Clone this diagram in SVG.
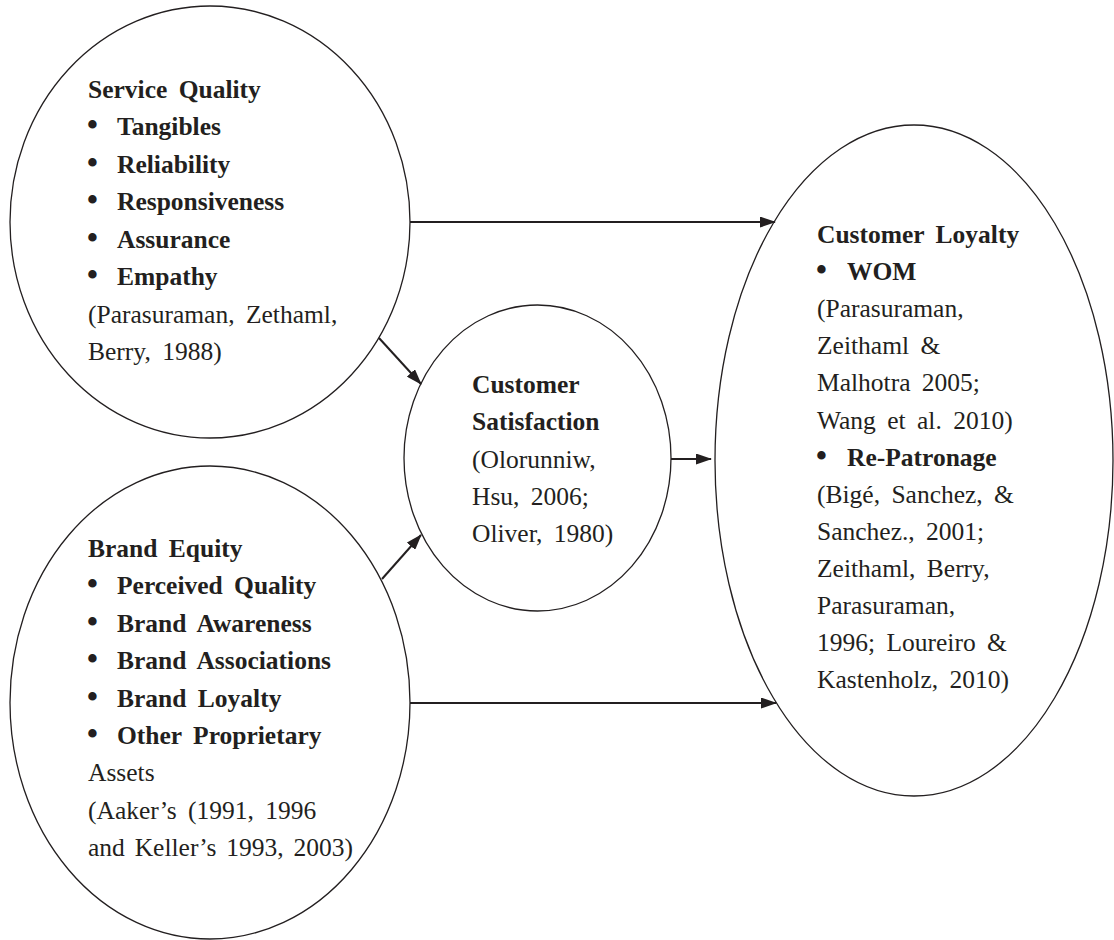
<svg xmlns="http://www.w3.org/2000/svg" width="1114" height="940" viewBox="0 0 1114 940">
<style>
.node{fill:#ffffff;stroke:#231f20;stroke-width:1.3}
.t{font-family:"Liberation Serif","Times New Roman",serif;font-size:25.5px;fill:#231f20;word-spacing:5px}
.b{font-weight:bold}
.bul{font-family:"Liberation Serif","Times New Roman",serif;font-size:31px;font-weight:bold}
.edge{stroke:#231f20;stroke-width:2;fill:none;marker-end:url(#ah)}
</style>
<defs>
<marker id="ah" viewBox="0 0 16 11" refX="15" refY="5.5" markerWidth="16" markerHeight="11" markerUnits="userSpaceOnUse" orient="auto">
<path d="M0,0 L16,5.5 L0,11 z" fill="#231f20"/>
</marker>
</defs>
<rect width="1114" height="940" fill="#ffffff"/>
<g id="service-quality">
<ellipse class="node" cx="210" cy="222" rx="200" ry="216"/>
<text class="t b" x="88" y="98">Service Quality</text>
<text class="t b" y="135.4"><tspan class="bul" x="87">•</tspan><tspan x="117">Tangibles</tspan></text>
<text class="t b" y="172.8"><tspan class="bul" x="87">•</tspan><tspan x="117">Reliability</tspan></text>
<text class="t b" y="210.2"><tspan class="bul" x="87">•</tspan><tspan x="117">Responsiveness</tspan></text>
<text class="t b" y="247.6"><tspan class="bul" x="87">•</tspan><tspan x="117">Assurance</tspan></text>
<text class="t b" y="285"><tspan class="bul" x="87">•</tspan><tspan x="117">Empathy</tspan></text>
<text class="t" x="88" y="323">(Parasuraman, Zethaml,</text>
<text class="t" x="88" y="360">Berry, 1988)</text>
</g>
<g id="brand-equity">
<ellipse class="node" cx="210" cy="702.5" rx="200" ry="236.5"/>
<text class="t b" x="88" y="557">Brand Equity</text>
<text class="t b" y="594.4"><tspan class="bul" x="87">•</tspan><tspan x="117">Perceived Quality</tspan></text>
<text class="t b" y="631.8"><tspan class="bul" x="87">•</tspan><tspan x="117">Brand Awareness</tspan></text>
<text class="t b" y="669.2"><tspan class="bul" x="87">•</tspan><tspan x="117">Brand Associations</tspan></text>
<text class="t b" y="706.6"><tspan class="bul" x="87">•</tspan><tspan x="117">Brand Loyalty</tspan></text>
<text class="t b" y="744"><tspan class="bul" x="87">•</tspan><tspan x="117">Other Proprietary</tspan></text>
<text class="t" x="88" y="781.4">Assets</text>
<text class="t" x="88" y="818.8">(Aaker’s (1991, 1996</text>
<text class="t" x="88" y="856.2" style="word-spacing:3.5px">and Keller’s 1993, 2003)</text>
</g>
<g id="customer-satisfaction">
<ellipse class="node" cx="537.5" cy="458" rx="133.5" ry="153"/>
<text class="t b" x="472" y="393">Customer</text>
<text class="t b" x="472" y="430.3">Satisfaction</text>
<text class="t" x="472" y="467.6">(Olorunniw,</text>
<text class="t" x="472" y="504.9">Hsu, 2006;</text>
<text class="t" x="472" y="542.2">Oliver, 1980)</text>
</g>
<g id="customer-loyalty">
<ellipse class="node" cx="914" cy="460.5" rx="199" ry="335.5"/>
<text class="t b" x="817" y="243">Customer Loyalty</text>
<text class="t b" y="280.1"><tspan class="bul" x="816">•</tspan><tspan x="847">WOM</tspan></text>
<text class="t" x="817" y="317.2">(Parasuraman,</text>
<text class="t" x="817" y="354.3">Zeithaml &amp;</text>
<text class="t" x="817" y="391.4">Malhotra 2005;</text>
<text class="t" x="817" y="428.5">Wang et al. 2010)</text>
<text class="t b" y="465.6"><tspan class="bul" x="816">•</tspan><tspan x="847">Re-Patronage</tspan></text>
<text class="t" x="817" y="502.7">(Bigé, Sanchez, &amp;</text>
<text class="t" x="817" y="539.8">Sanchez., 2001;</text>
<text class="t" x="817" y="576.9">Zeithaml, Berry,</text>
<text class="t" x="817" y="614">Parasuraman,</text>
<text class="t" x="817" y="651.1">1996; Loureiro &amp;</text>
<text class="t" x="817" y="688.2">Kastenholz, 2010)</text>
</g>
<g id="connectors">
<line class="edge" x1="410" y1="222" x2="775" y2="222"/>
<line class="edge" x1="410" y1="703" x2="776" y2="703"/>
<line class="edge" x1="379" y1="338" x2="421" y2="384"/>
<line class="edge" x1="382" y1="579" x2="421" y2="535"/>
<line class="edge" x1="671" y1="459" x2="711" y2="459"/>
</g>
</svg>
